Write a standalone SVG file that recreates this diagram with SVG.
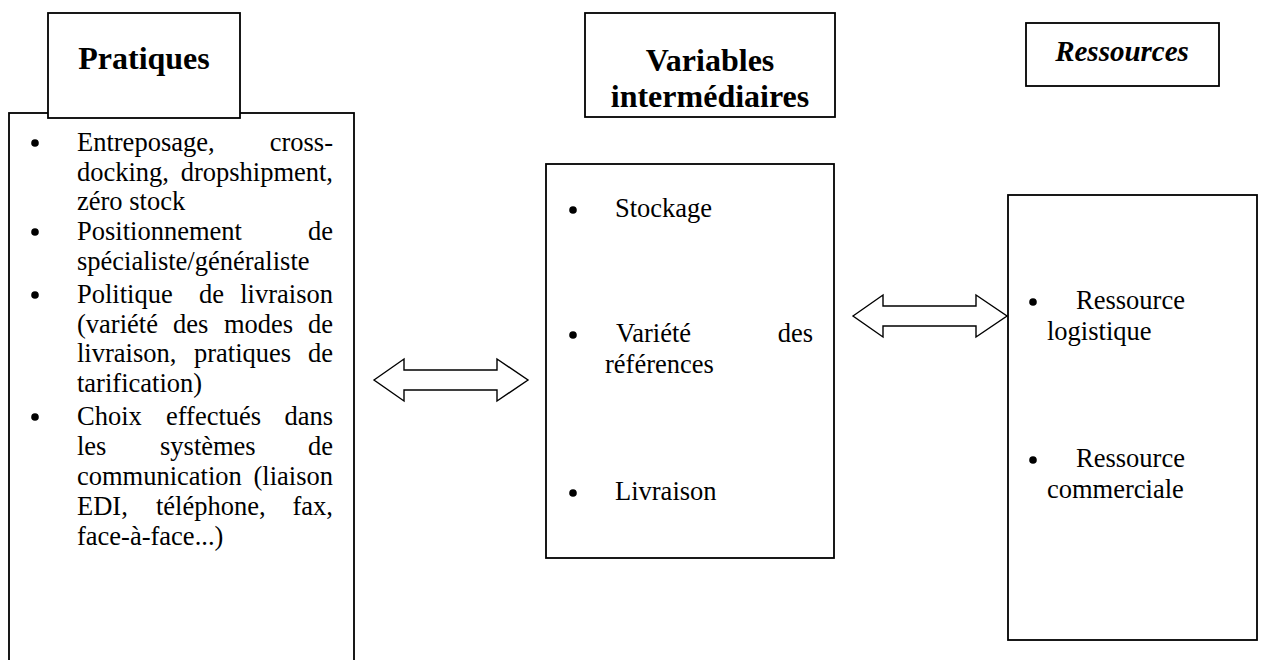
<svg xmlns="http://www.w3.org/2000/svg" width="1261" height="660" viewBox="0 0 1261 660" font-family="Liberation Serif">
  <style>
    .box { fill: #fff; stroke: #000; stroke-width: 1.8; }
    .arrow { fill: #fff; stroke: #000; stroke-width: 1.4; stroke-linejoin: miter; }
    .hd { font-family: 'Liberation Serif', serif; font-weight: bold; font-size: 32px; fill: #000; }
    .hi { font-family: 'Liberation Serif', serif; font-weight: bold; font-style: italic; font-size: 29px; fill: #000; }
    .tx { font-family: 'Liberation Serif', serif; font-size: 26.5px; fill: #000; }
    .end { text-anchor: end; }
    .dot { fill: #000; }
  </style>
  <defs>
    <!-- double-headed block arrow, 154 long, centred vertically on y=0 -->
    <path id="dblArrow" d="M0,0 L30,-21 L30,-10 L123,-10 L123,-21 L154,0 L123,21 L123,10 L30,10 L30,21 Z"/>
  </defs>

  <rect width="1261" height="660" fill="#fff"/>

  <!-- Pratiques -->
  <g id="pratiques">
    <rect class="box" x="9" y="113" width="345" height="600"/>
    <rect class="box" x="48" y="13" width="192" height="105"/>
    <text class="hd" font-family="Liberation Serif" x="144" y="69" text-anchor="middle">Pratiques</text>

    <circle class="dot" cx="35" cy="143" r="3.8"/>
    <text class="tx" font-family="Liberation Serif" x="77" y="151">Entreposage,</text>
    <text class="tx end" font-family="Liberation Serif" x="333" y="151">cross-</text>
    <text class="tx" font-family="Liberation Serif" x="77" y="181">docking,</text>
    <text class="tx end" font-family="Liberation Serif" x="333" y="181">dropshipment,</text>
    <text class="tx" font-family="Liberation Serif" x="77" y="210">zéro stock</text>

    <circle class="dot" cx="35" cy="232" r="3.8"/>
    <text class="tx" font-family="Liberation Serif" x="77" y="240">Positionnement</text>
    <text class="tx end" font-family="Liberation Serif" x="333" y="240">de</text>
    <text class="tx" font-family="Liberation Serif" x="77" y="270">spécialiste/généraliste</text>

    <circle class="dot" cx="35" cy="295" r="3.8"/>
    <text class="tx" font-family="Liberation Serif" x="77" y="303">Politique</text>
    <text class="tx" font-family="Liberation Serif" x="199" y="303">de</text>
    <text class="tx end" font-family="Liberation Serif" x="333" y="303">livraison</text>
    <text class="tx" font-family="Liberation Serif" x="77" y="333">(variété</text>
    <text class="tx" font-family="Liberation Serif" x="173" y="333">des</text>
    <text class="tx" font-family="Liberation Serif" x="224" y="333">modes</text>
    <text class="tx end" font-family="Liberation Serif" x="333" y="333">de</text>
    <text class="tx" font-family="Liberation Serif" x="77" y="362">livraison,</text>
    <text class="tx" font-family="Liberation Serif" x="194" y="362">pratiques</text>
    <text class="tx end" font-family="Liberation Serif" x="333" y="362">de</text>
    <text class="tx" font-family="Liberation Serif" x="77" y="392">tarification)</text>

    <circle class="dot" cx="35" cy="417" r="3.8"/>
    <text class="tx" font-family="Liberation Serif" x="77" y="425">Choix</text>
    <text class="tx" font-family="Liberation Serif" x="166" y="425">effectués</text>
    <text class="tx end" font-family="Liberation Serif" x="333" y="425">dans</text>
    <text class="tx" font-family="Liberation Serif" x="77" y="455">les</text>
    <text class="tx" font-family="Liberation Serif" x="160" y="455">systèmes</text>
    <text class="tx end" font-family="Liberation Serif" x="333" y="455">de</text>
    <text class="tx" font-family="Liberation Serif" x="77" y="485">communication</text>
    <text class="tx end" font-family="Liberation Serif" x="333" y="485">(liaison</text>
    <text class="tx" font-family="Liberation Serif" x="77" y="515">EDI,</text>
    <text class="tx" font-family="Liberation Serif" x="156" y="515">téléphone,</text>
    <text class="tx end" font-family="Liberation Serif" x="333" y="515">fax,</text>
    <text class="tx" font-family="Liberation Serif" x="77" y="545">face-à-face...)</text>
  </g>

  <!-- Variables intermédiaires -->
  <g id="variables">
    <rect class="box" x="585" y="13" width="250" height="104"/>
    <text class="hd" font-family="Liberation Serif" x="710" y="71" text-anchor="middle">Variables</text>
    <text class="hd" font-family="Liberation Serif" x="710" y="107" text-anchor="middle">intermédiaires</text>

    <rect class="box" x="546" y="164" width="288" height="394"/>
    <circle class="dot" cx="573" cy="210" r="3.8"/>
    <text class="tx" font-family="Liberation Serif" x="615" y="217">Stockage</text>
    <circle class="dot" cx="573" cy="335" r="3.8"/>
    <text class="tx" font-family="Liberation Serif" x="616" y="342">Variété</text>
    <text class="tx end" font-family="Liberation Serif" x="813" y="342">des</text>
    <text class="tx" font-family="Liberation Serif" x="605" y="373">références</text>
    <circle class="dot" cx="573" cy="493" r="3.8"/>
    <text class="tx" font-family="Liberation Serif" x="615" y="500">Livraison</text>
  </g>

  <!-- Ressources -->
  <g id="ressources">
    <rect class="box" x="1026" y="23" width="193" height="63"/>
    <text class="hi" font-family="Liberation Serif" x="1122" y="61" text-anchor="middle">Ressources</text>

    <rect class="box" x="1008" y="195" width="249" height="445"/>
    <circle class="dot" cx="1033" cy="302" r="3.8"/>
    <text class="tx" font-family="Liberation Serif" x="1076" y="309">Ressource</text>
    <text class="tx" font-family="Liberation Serif" x="1047" y="340">logistique</text>
    <circle class="dot" cx="1033" cy="460" r="3.8"/>
    <text class="tx" font-family="Liberation Serif" x="1076" y="467">Ressource</text>
    <text class="tx" font-family="Liberation Serif" x="1047" y="498">commerciale</text>
  </g>

  <!-- connectors -->
  <g id="connectors">
    <use href="#dblArrow" class="arrow" x="374" y="380"/>
    <use href="#dblArrow" class="arrow" x="853" y="316"/>
  </g>
</svg>
